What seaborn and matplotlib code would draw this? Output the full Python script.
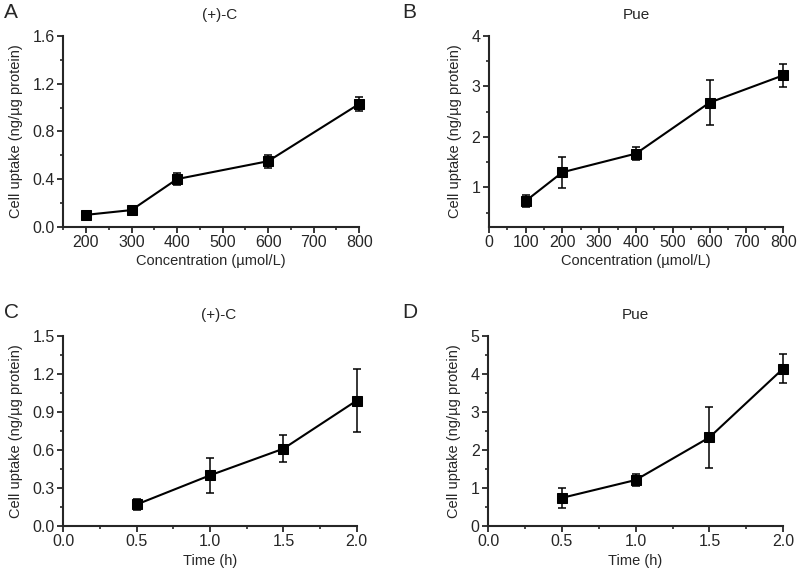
import matplotlib
matplotlib.use("Agg")
import matplotlib.pyplot as plt
import seaborn as sns
import pandas as pd
from matplotlib.ticker import MultipleLocator, FormatStrFormatter

# panel A: (+)-C vs concentration
conc_a = [200, 300, 400, 600, 800]
uptake_a = [0.10, 0.14, 0.40, 0.55, 1.03]
err_a = [0.02, 0.02, 0.05, 0.053, 0.056]

# panel B: Pue vs concentration
conc_b = [100, 200, 400, 600, 800]
uptake_b = [0.73, 1.30, 1.67, 2.68, 3.22]
err_b = [0.12, 0.31, 0.13, 0.44, 0.23]

# panel C: (+)-C vs time
time_c = [0.5, 1.0, 1.5, 2.0]
uptake_c = [0.17, 0.40, 0.61, 0.99]
err_c = [0.045, 0.14, 0.107, 0.245]

# panel D: Pue vs time
time_d = [0.5, 1.0, 1.5, 2.0]
uptake_d = [0.74, 1.21, 2.33, 4.14]
err_d = [0.27, 0.15, 0.80, 0.37]

sns.set_style("ticks")
plt.rcParams["font.family"] = ["Liberation Sans", "DejaVu Sans"]
plt.rcParams["font.size"] = 10

fig = plt.figure(figsize=(8, 5.8), dpi=100)

panels = [
    # letter, title, x, y, err, xlabel, xlim, xmajor, ylim, ymajor, y fmt, x fmt, rect, title x
    ("A", "(+)-C", conc_a, uptake_a, err_a, "Concentration (\u00b5mol/L)",
     (150, 800), 100, (0, 1.6), 0.4, "%.1f", "%d", [0.079, 0.609, 0.370, 0.329], 0.53),
    ("B", "Pue", conc_b, uptake_b, err_b, "Concentration (\u00b5mol/L)",
     (0, 800), 100, (0.22, 4), 1, "%d", "%d", [0.611, 0.609, 0.368, 0.329], 0.5),
    ("C", "(+)-C", time_c, uptake_c, err_c, "Time (h)",
     (0, 2), 0.5, (0, 1.5), 0.3, "%.1f", "%.1f", [0.079, 0.093, 0.367, 0.328], 0.53),
    ("D", "Pue", time_d, uptake_d, err_d, "Time (h)",
     (0, 2), 0.5, (0, 5), 1, "%d", "%.1f", [0.610, 0.093, 0.369, 0.328], 0.5),
]

for letter, title, xs, ys, es, xlabel, xlim, xmaj, ylim, ymaj, yfmt, xfmt, rect, tx in panels:
    ax = fig.add_axes(rect)
    df = pd.DataFrame({"x": xs, "y": ys})
    ax.errorbar(xs, ys, yerr=es, fmt="none", ecolor="black", elinewidth=1.1,
                capsize=3, capthick=1.1, clip_on=False, zorder=3)
    sns.lineplot(data=df, x="x", y="y", ax=ax, color="black", linewidth=1.5,
                 marker="s", markersize=7, markeredgecolor="black",
                 clip_on=False, zorder=4)
    ax.set_xlim(*xlim)
    ax.set_ylim(*ylim)
    ax.xaxis.set_major_locator(MultipleLocator(xmaj))
    ax.xaxis.set_minor_locator(MultipleLocator(xmaj / 2))
    ax.yaxis.set_major_locator(MultipleLocator(ymaj))
    ax.yaxis.set_minor_locator(MultipleLocator(ymaj / 2))
    ax.yaxis.set_major_formatter(FormatStrFormatter(yfmt))
    ax.xaxis.set_major_formatter(FormatStrFormatter(xfmt))
    sns.despine(ax=ax)
    for sp in ("left", "bottom"):
        ax.spines[sp].set_linewidth(1.5)
    ax.tick_params(which="major", length=4, width=1.3, labelsize=11.5, pad=2)
    ax.tick_params(which="minor", length=2.5, width=1.2)
    ax.set_xlabel(xlabel, fontsize=10.5, labelpad=3)
    ax.set_ylabel("Cell uptake (ng/\u00b5g protein)", fontsize=10.5, labelpad=7)
    ax.set_title(title, fontsize=11, pad=12, x=tx)
    pos = ax.get_position()
    fig.text(0.005 if letter in "AC" else 0.503, pos.y1 + 0.057, letter,
             fontsize=15, ha="left", va="top")

fig.savefig("out.png", dpi=100)
